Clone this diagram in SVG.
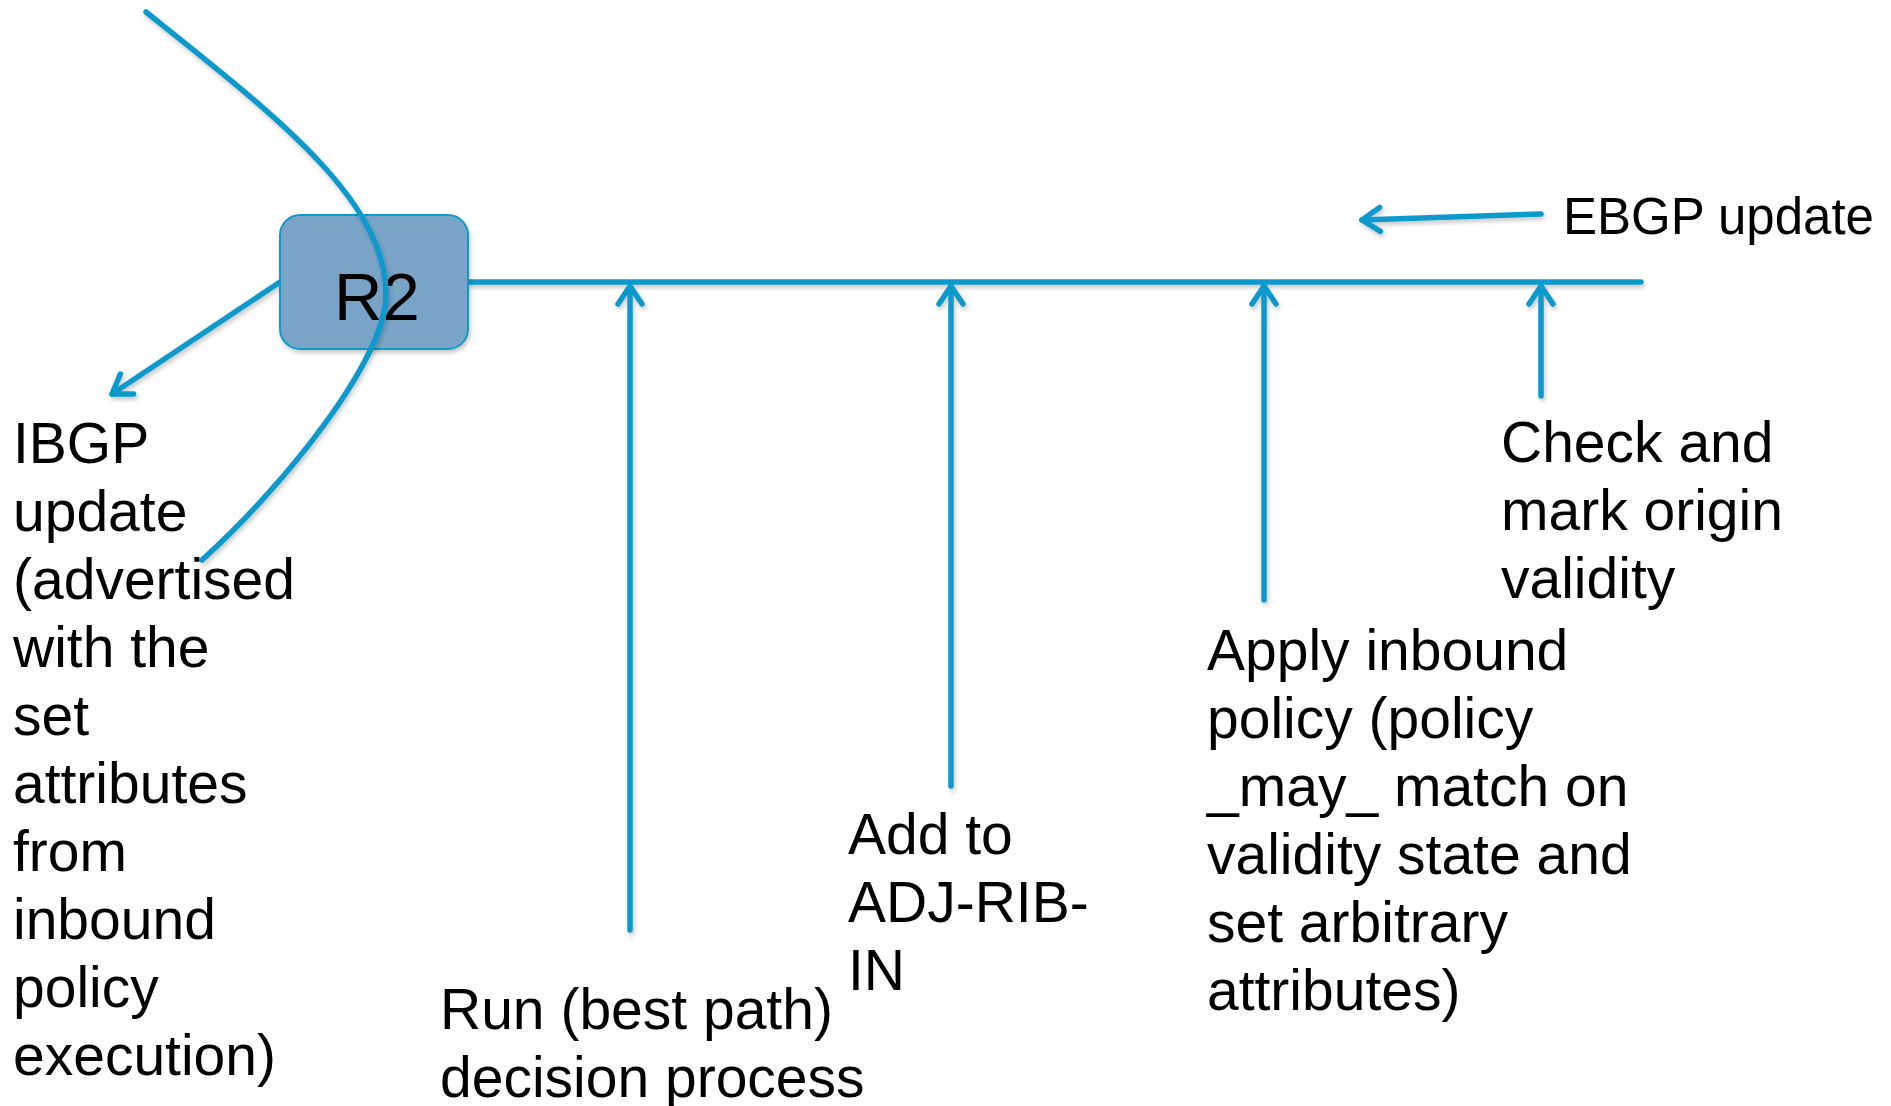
<svg xmlns="http://www.w3.org/2000/svg" width="1891" height="1106" viewBox="0 0 1891 1106">
  <style>
    .wire { fill: none; stroke: #1199CC; stroke-width: 5.5; stroke-linecap: round; }
    .arrow { marker-end: url(#chevron); }
    .label { font-family: "Liberation Sans", Arial, sans-serif; font-size: 57px; fill: #000; }
    .router { fill: #79A4C8; stroke: #1199CC; stroke-width: 2; }
  </style>
  <defs>
    <filter id="shade" filterUnits="userSpaceOnUse" x="0" y="0" width="1891" height="1106">
      <feDropShadow dx="1.5" dy="3" stdDeviation="2" flood-color="#000" flood-opacity="0.22"/>
    </filter>
    <marker id="chevron" markerUnits="userSpaceOnUse" markerWidth="40" markerHeight="40" viewBox="-20 -20 40 40" refX="0" refY="0" orient="auto" overflow="visible">
      <path d="M -18 -12 L 0 0 L -18 12" fill="none" stroke="#1199CC" stroke-width="5.5" stroke-linecap="round" stroke-linejoin="round"/>
    </marker>
  </defs>
  <rect width="1891" height="1106" fill="#fff"/>

  <!-- connectors -->
  <g id="connectors" filter="url(#shade)">
    <path id="bus" class="wire" d="M 468 282 L 1641 282"/>
    <path id="ibgp-out" class="wire arrow" d="M 280 282 L 112 394"/>
    <path id="ebgp-in" class="wire arrow" d="M 1541 214 L 1362 220"/>
    <path id="step-bestpath" class="wire arrow" d="M 630 930 L 630 286"/>
    <path id="step-adjribin" class="wire arrow" d="M 951 786 L 951 286"/>
    <path id="step-policy" class="wire arrow" d="M 1264 600 L 1264 286"/>
    <path id="step-origin" class="wire arrow" d="M 1541 396 L 1541 286"/>
  </g>

  <!-- router R2 -->
  <g id="node-r2" filter="url(#shade)">
    <rect class="router" x="280" y="215" width="188" height="134" rx="20" ry="20"/>
    <text class="label" x="334" y="320" style="font-size:67px">R2</text>
  </g>

  <!-- AS boundary curve crossing R2 -->
  <g id="boundary" filter="url(#shade)">
    <path class="wire" d="M 146 12 C 276 116 386 200 386 295 C 386 360 282 488 202 560"/>
  </g>

  <g id="label-ibgp">
    <text class="label" x="13" y="463">IBGP</text>
    <text class="label" x="13" y="531">update</text>
    <text class="label" x="13" y="599">(advertised</text>
    <text class="label" x="13" y="667">with the</text>
    <text class="label" x="13" y="735">set</text>
    <text class="label" x="13" y="803">attributes</text>
    <text class="label" x="13" y="871">from</text>
    <text class="label" x="13" y="939">inbound</text>
    <text class="label" x="13" y="1007">policy</text>
    <text class="label" x="13" y="1075">execution)</text>
  </g>

  <g id="label-ebgp">
    <text class="label" x="1563" y="234" style="font-size:51px">EBGP update</text>
  </g>

  <g id="label-bestpath">
    <text class="label" x="440" y="1029">Run (best path)</text>
    <text class="label" x="440" y="1097">decision process</text>
  </g>

  <g id="label-adjribin">
    <text class="label" x="848" y="854">Add to</text>
    <text class="label" x="848" y="922">ADJ-RIB-</text>
    <text class="label" x="848" y="990">IN</text>
  </g>

  <g id="label-policy">
    <text class="label" x="1207" y="670">Apply inbound</text>
    <text class="label" x="1207" y="738">policy (policy</text>
    <text class="label" x="1207" y="806">_may_ match on</text>
    <text class="label" x="1207" y="874">validity state and</text>
    <text class="label" x="1207" y="942">set arbitrary</text>
    <text class="label" x="1207" y="1010">attributes)</text>
  </g>

  <g id="label-origin">
    <text class="label" x="1501" y="462">Check and</text>
    <text class="label" x="1501" y="530">mark origin</text>
    <text class="label" x="1501" y="598">validity</text>
  </g>
</svg>
